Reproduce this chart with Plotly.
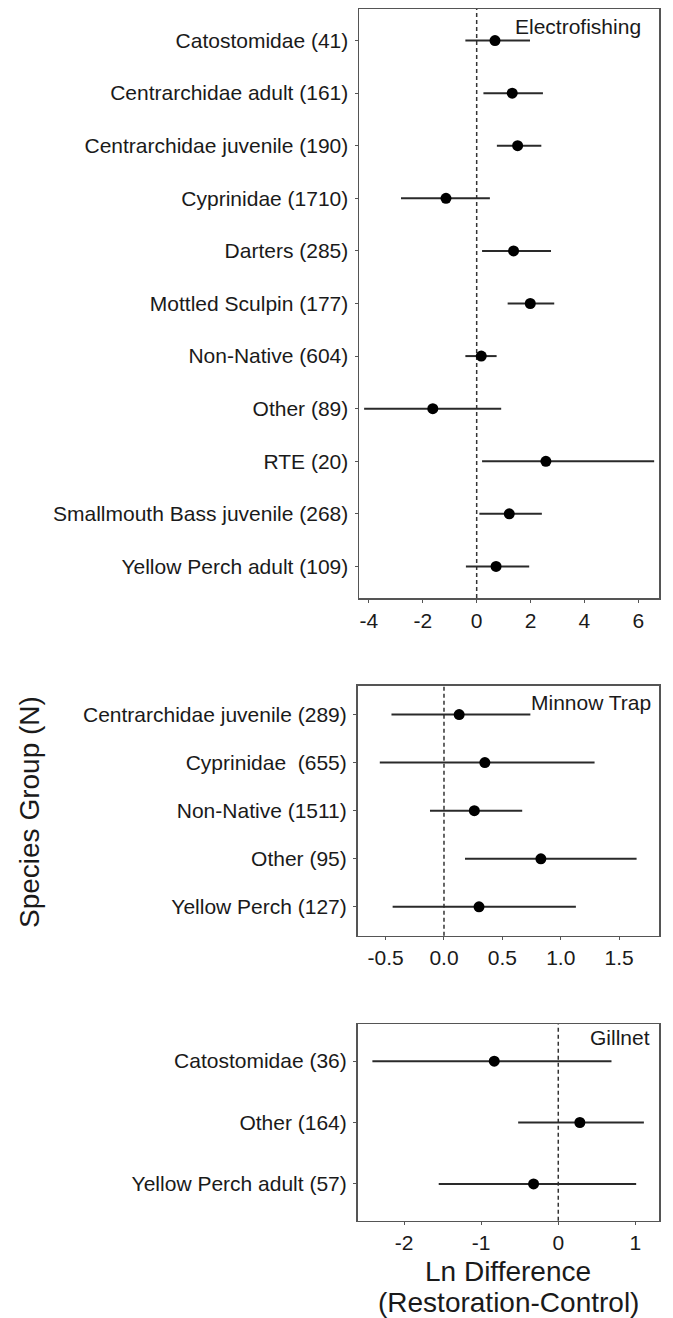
import plotly.graph_objects as go

# ---------------- data ----------------
ef_groups = ["Catostomidae (41)", "Centrarchidae adult (161)", "Centrarchidae juvenile (190)",
             "Cyprinidae (1710)", "Darters (285)", "Mottled Sculpin (177)", "Non-Native (604)",
             "Other (89)", "RTE (20)", "Smallmouth Bass juvenile (268)", "Yellow Perch adult (109)"]
ef_est = [0.68, 1.32, 1.52, -1.14, 1.37, 1.99, 0.17, -1.63, 2.57, 1.21, 0.72]
ef_lo = [-0.42, 0.25, 0.75, -2.81, 0.20, 1.15, -0.42, -4.18, 0.20, 0.10, -0.40]
ef_hi = [1.98, 2.46, 2.40, 0.49, 2.76, 2.88, 0.74, 0.91, 6.59, 2.42, 1.95]

mt_groups = ["Centrarchidae juvenile (289)", "Cyprinidae\u00a0 (655)", "Non-Native (1511)",
             "Other (95)", "Yellow Perch (127)"]
mt_est = [0.13, 0.35, 0.26, 0.83, 0.30]
mt_lo = [-0.45, -0.55, -0.12, 0.18, -0.44]
mt_hi = [0.74, 1.29, 0.67, 1.65, 1.13]

gn_groups = ["Catostomidae (36)", "Other (164)", "Yellow Perch adult (57)"]
gn_est = [-0.83, 0.28, -0.32]
gn_lo = [-2.41, -0.52, -1.55]
gn_hi = [0.69, 1.11, 1.01]

panel_names = ["Electrofishing", "Minnow Trap", "Gillnet"]
x_ticks = [[-4, -2, 0, 2, 4, 6], [-0.5, 0.0, 0.5, 1.0, 1.5], [-2, -1, 0, 1]]
x_ticktext = [["-4", "-2", "0", "2", "4", "6"], ["-0.5", "0.0", "0.5", "1.0", "1.5"], ["-2", "-1", "0", "1"]]
x_ranges = [[-4.37, 6.77], [-0.741, 1.842], [-2.603, 1.306]]
x_title_lines = ["Ln Difference", "(Restoration-Control)"]
y_title = "Species Group (N)"

# ---------------- layout constants (page pixels) ----------------
W, H = 673, 1318


def fx(px):
    return px / W


def fy(py):
    return 1 - py / H


FONT = "Liberation Sans, Arial, Helvetica, sans-serif"
TXT = "#1a1a1a"
panels_px = [  # left, right, top, bottom
    (359, 659, 9, 598),
    (357.5, 659, 685.7, 935.7),
    (357.5, 659, 1024.3, 1220.7),
]
label_pos = [(0.947, 0.971), (0.98, 0.932), (0.978, 0.932)]

datasets = [
    (ef_groups, ef_est, ef_lo, ef_hi),
    (mt_groups, mt_est, mt_lo, mt_hi),
    (gn_groups, gn_est, gn_lo, gn_hi),
]

fig = go.Figure()
layout = dict(
    width=W, height=H, autosize=False,
    margin=dict(l=0, r=0, t=0, b=0),
    paper_bgcolor="white", plot_bgcolor="white",
    showlegend=False,
    font=dict(family=FONT, color=TXT, size=21),
)
shapes = []
annotations = []

for i, (groups, est, lo, hi) in enumerate(datasets):
    k = "" if i == 0 else str(i + 1)
    xa, ya = "x" + k, "y" + k
    plus = [h - e for h, e in zip(hi, est)]
    minus = [e - l for e, l in zip(est, lo)]
    fig.add_trace(go.Scatter(
        x=est, y=groups, mode="markers", xaxis=xa, yaxis=ya,
        marker=dict(color="black", size=11),
        error_x=dict(type="data", symmetric=False, array=plus, arrayminus=minus,
                     color="#2a2a2a", thickness=2, width=0),
        hoverinfo="skip",
    ))
    l, r, t, b = panels_px[i]
    n = len(groups)
    layout["xaxis" + k] = dict(
        domain=[fx(l), fx(r)], anchor=ya, range=x_ranges[i],
        tickmode="array", tickvals=x_ticks[i], ticktext=x_ticktext[i],
        showgrid=False, zeroline=False,
        showline=True, linecolor="#555", linewidth=1.5, mirror=True,
        ticks="outside", ticklen=3, tickcolor="#555", tickwidth=1,
        tickfont=dict(size=21, color=TXT, family=FONT),
    )
    layout["yaxis" + k] = dict(
        domain=[fy(b), fy(t)], anchor=xa,
        type="category", categoryorder="array", categoryarray=groups,
        range=[n - 1 + 0.6, -0.6],
        showgrid=False, zeroline=False,
        showline=True, linecolor="#555", linewidth=1.5, mirror=True,
        ticks="outside", ticklen=3, tickcolor="#555", tickwidth=1,
        ticklabelstandoff=2,
        tickfont=dict(size=21, color=TXT, family=FONT),
    )
    shapes.append(dict(
        type="line", xref=xa, yref=ya + " domain", x0=0, x1=0, y0=0, y1=1,
        line=dict(color="#333", width=1.5, dash="4px,3px"), layer="below",
    ))
    lx, ly = label_pos[i]
    annotations.append(dict(
        text=panel_names[i], xref=xa + " domain", yref=ya + " domain",
        x=lx, y=ly, xanchor="right", yanchor="middle", showarrow=False,
        font=dict(size=21, color=TXT, family=FONT),
    ))

for line_text, py in zip(x_title_lines, [1271, 1302]):
    annotations.append(dict(
        text=line_text, xref="paper", yref="paper",
        x=fx(508), y=fy(py), xanchor="center", yanchor="middle", showarrow=False,
        font=dict(size=28, color=TXT, family=FONT),
    ))
annotations.append(dict(
    text=y_title, xref="paper", yref="paper", textangle=-90,
    x=fx(29), y=fy(812), xanchor="center", yanchor="middle", showarrow=False,
    font=dict(size=28, color=TXT, family=FONT),
))

layout["shapes"] = shapes
layout["annotations"] = annotations
fig.update_layout(**layout)
fig.write_html("out.html",
               config={"displayModeBar": False, "staticPlot": True},
               post_script="document.body.style.margin='0px';document.body.style.overflow='hidden';")
